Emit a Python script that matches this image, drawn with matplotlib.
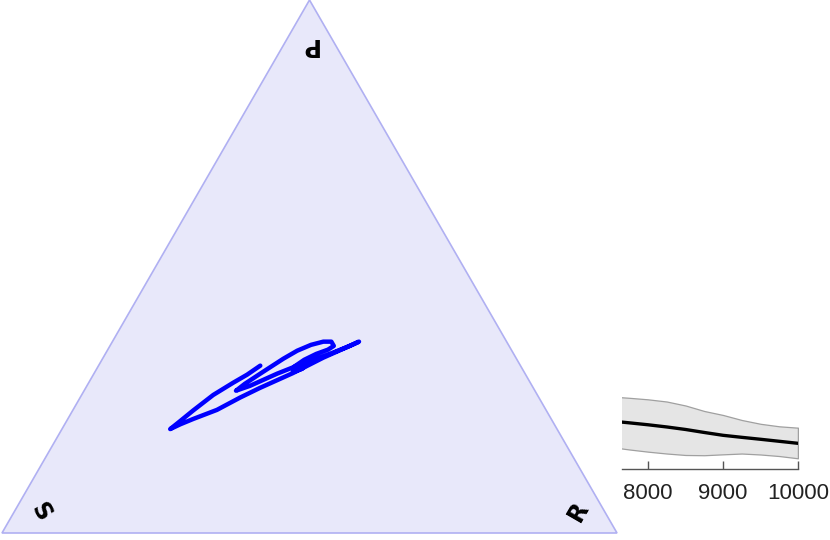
import numpy as np
import matplotlib
matplotlib.use("Agg")
import matplotlib.pyplot as plt
from matplotlib.patches import Polygon

# ---- data: trajectory in ternary fractions (P, R, S) ----
P_frac = [0.314, 0.297, 0.282, 0.259, 0.230, 0.207, 0.195,
          0.204, 0.214, 0.231, 0.254, 0.272, 0.300, 0.329, 0.347, 0.359,
          0.351, 0.336, 0.321, 0.299, 0.276, 0.267,
          0.280, 0.302, 0.327, 0.342, 0.353, 0.359, 0.359, 0.351, 0.344,
          0.336, 0.325, 0.312, 0.302, 0.308, 0.321, 0.314, 0.306, 0.314]
R_frac = [0.263, 0.250, 0.235, 0.214, 0.196, 0.183, 0.176,
          0.188, 0.204, 0.234, 0.260, 0.283, 0.323, 0.358, 0.384, 0.401,
          0.390, 0.365, 0.335, 0.298, 0.265, 0.247,
          0.255, 0.273, 0.294, 0.309, 0.326, 0.343, 0.356, 0.364, 0.358,
          0.343, 0.329, 0.319, 0.322, 0.334, 0.340, 0.328, 0.328, 0.334]
S_frac = [1 - p - r for p, r in zip(P_frac, R_frac)]
corner_labels = ["P", "S", "R"]

# ---- data: inset series ----
inset_x = [7500, 7750, 8000, 8250, 8500, 8750, 9000, 9250, 9500, 9750, 10000]
inset_mean = [0.593, 0.570, 0.546, 0.519, 0.488, 0.451, 0.416, 0.391, 0.367, 0.342, 0.317]
inset_upper = [0.895, 0.879, 0.860, 0.833, 0.784, 0.716, 0.667, 0.605, 0.558, 0.527, 0.510]
inset_lower = [0.272, 0.241, 0.214, 0.191, 0.173, 0.170, 0.181, 0.191, 0.179, 0.160, 0.132]
inset_ticks = [8000, 9000, 10000]

W, H = 830, 540
fig = plt.figure(figsize=(W / 100, H / 100), dpi=100)

h = np.sqrt(3) / 2
ax = fig.add_axes([2 / W, 7 / H, 615 / W, 533 / H])
ax.set_xlim(0, 1)
ax.set_ylim(0, h)
ax.axis("off")

tri = Polygon([(0, 0), (1, 0), (0.5, h)], closed=True, facecolor="#E8E8FA",
              edgecolor="#B0B0F2", linewidth=1.2, clip_on=False)
ax.add_patch(tri)

P = np.array(P_frac)
R = np.array(R_frac)
xs = R + 0.5 * P
ys = P * h
ax.plot(xs, ys, color="#0000FF", linewidth=3.2, solid_capstyle="round",
        solid_joinstyle="round", clip_on=False)

lab_kw = dict(fontsize=17, fontweight="bold", ha="center", va="center", color="black")
ax.text(0.5, 0.793, corner_labels[0], rotation=180, **lab_kw)
ax.text(0.062, 0.034, corner_labels[1], rotation=-60, **lab_kw)
ax.text(0.937, 0.034, corner_labels[2], rotation=60, **lab_kw)

# ---- inset ----
ax2 = fig.add_axes([622 / W, (540 - 469) / H, 176 / W, 81 / H])
ax2.fill_between(inset_x, inset_lower, inset_upper, facecolor="#E5E5E5",
                 edgecolor="#A0A0A0", linewidth=0.9)
ax2.plot([inset_x[-1], inset_x[-1]], [inset_lower[-1], inset_upper[-1]],
         color="#A0A0A0", linewidth=0.9)
ax2.plot(inset_x, inset_mean, color="black", linewidth=2.4)
ax2.set_xlim(7653, 10000)
ax2.set_ylim(0, 1)
for s in ["top", "left", "right"]:
    ax2.spines[s].set_visible(False)
ax2.spines["bottom"].set_color("#555555")
ax2.spines["bottom"].set_linewidth(1.0)
ax2.set_yticks([])
ax2.set_xticks(inset_ticks)
ax2.set_xticklabels([str(t) for t in inset_ticks], fontsize=16,
                    family="Liberation Sans", color="#222222")
ax2.tick_params(axis="x", direction="in", length=6, width=1.0, color="#555555", pad=10)
ax2.patch.set_alpha(0)

fig.savefig("out.png", dpi=100)
